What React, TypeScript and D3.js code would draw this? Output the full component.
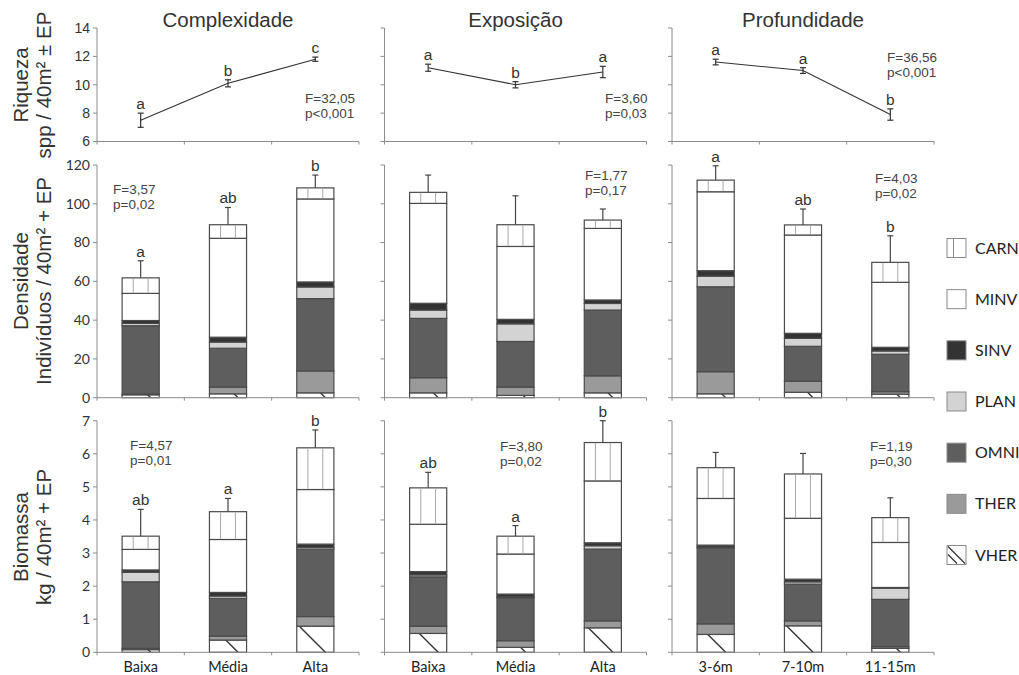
import React from 'react';
import * as d3 from 'd3';

// panels (columns) and their levels
const factors = ['Complexidade', 'Exposição', 'Profundidade'];
const levelsComplex = ['Baixa', 'Média', 'Alta'];
const levelsExpo = ['Baixa', 'Média', 'Alta'];
const levelsProf = ['3-6m', '7-10m', '11-15m'];
const levels = [levelsComplex, levelsExpo, levelsProf];

// trophic guilds, stacked bottom -> top
const guilds = ['VHER', 'THER', 'OMNI', 'PLAN', 'SINV', 'MINV', 'CARN'];
const legendOrder = ['CARN', 'MINV', 'SINV', 'PLAN', 'OMNI', 'THER', 'VHER'];

// Riqueza (spp / 40m2 +- EP)
const riqMean = [
  [7.5, 10.1, 11.8],
  [11.2, 10.0, 10.9],
  [11.6, 11.0, 7.9],
];
const riqErr = [
  [0.5, 0.25, 0.15],
  [0.25, 0.22, 0.4],
  [0.2, 0.2, 0.4],
];
const riqLetters = [['a', 'b', 'c'], ['a', 'b', 'a'], ['a', 'a', 'b']];
const riqStats = [['F=32,05', 'p<0,001'], ['F=3,60', 'p=0,03'], ['F=36,56', 'p<0,001']];

// Densidade (individuos / 40m2), guild values in stack order per level
const densComplex = [
  [1.5, 0.3, 35.3, 1.2, 1.5, 14.0, 8.0],
  [2.0, 3.5, 20.0, 3.2, 2.5, 51.0, 7.0],
  [2.5, 11.3, 37.3, 6.0, 2.6, 42.8, 5.7],
];
const densExpo = [
  [2.5, 7.8, 30.6, 4.3, 3.5, 51.5, 5.7],
  [1.2, 4.3, 23.5, 9.1, 2.3, 37.6, 11.2],
  [2.5, 8.8, 33.9, 3.4, 1.8, 36.9, 4.3],
];
const densProf = [
  [2.0, 11.4, 43.8, 5.5, 2.8, 40.7, 6.0],
  [2.8, 5.7, 18.0, 4.1, 2.6, 50.7, 5.2],
  [1.8, 1.3, 19.3, 1.7, 1.9, 33.5, 10.3],
];
const densErrTop = [
  [70.6, 98.1, 114.8],
  [114.8, 104.1, 97.3],
  [119.6, 97.3, 83.5],
];
const densLetters = [['a', 'ab', 'b'], ['', '', ''], ['a', 'ab', 'b']];
const densStats = [['F=3,57', 'p=0,02'], ['F=1,77', 'p=0,17'], ['F=4,03', 'p=0,02']];

// Biomassa (kg / 40m2)
const bioComplex = [
  [0.08, 0.04, 2.01, 0.29, 0.07, 0.62, 0.40],
  [0.37, 0.12, 1.14, 0.07, 0.11, 1.60, 0.84],
  [0.79, 0.29, 2.04, 0.05, 0.10, 1.65, 1.26],
];
const bioExpo = [
  [0.57, 0.22, 1.49, 0.06, 0.10, 1.43, 1.10],
  [0.15, 0.20, 1.30, 0.03, 0.08, 1.21, 0.54],
  [0.74, 0.21, 2.17, 0.10, 0.09, 1.87, 1.16],
];
const bioProf = [
  [0.54, 0.32, 2.30, 0.02, 0.06, 1.41, 0.93],
  [0.80, 0.15, 1.11, 0.07, 0.08, 1.84, 1.34],
  [0.12, 0.05, 1.43, 0.34, 0.02, 1.36, 0.75],
];
const bioErrTop = [
  [4.32, 4.65, 6.72],
  [5.44, 3.83, 7.0],
  [6.04, 6.01, 4.67],
];
const bioLetters = [['ab', 'a', 'b'], ['ab', 'a', 'b'], ['', '', '']];
const bioStats = [['F=4,57', 'p=0,01'], ['F=3,80', 'p=0,02'], ['F=1,19', 'p=0,30']];

const riqTicks = [6, 8, 10, 12, 14];
const densTicks = [0, 20, 40, 60, 80, 100, 120];
const bioTicks = [0, 1, 2, 3, 4, 5, 6, 7];

const fill: Record<string, string> = {
  VHER: '#ffffff',
  THER: '#9a9a9a',
  OMNI: '#5e5e5e',
  PLAN: '#d3d3d3',
  SINV: '#333333',
  MINV: '#ffffff',
  CARN: '#ffffff',
};

const ARIAL = '"Liberation Sans", Arial, sans-serif';
const CALIBRI = 'Lato, "Open Sans", sans-serif';
const AXIS = '#8c8c8c';
const TXT = '#333';
const EDGE = '#4a4a4a';

const panelLeft = d3.scaleLinear().domain([0, 1]).range([97, 384.5]);
const panelW = 262;

const yRiq = d3.scaleLinear().domain([6, 14]).range([141.5, 28]);
const yDens = d3.scaleLinear().domain([0, 120]).range([397.7, 165]);
const yBio = d3.scaleLinear().domain([0, 7]).range([652.3, 420.7]);

const statPos = {
  riq: [[305, 103], [605, 103], [887, 62]],
  dens: [[113, 194], [585, 180], [875, 183]],
  bio: [[130, 450], [500, 451], [870, 451]],
};

function xBand(lv: string[]) {
  return d3.scaleBand().domain(lv).range([0, panelW]).paddingInner(0.575).paddingOuter(0.2875);
}

function YAxis({ y, ticks, x0, labels, font }: any) {
  const [r0, r1] = y.range();
  return (
    <g>
      <line x1={x0} x2={x0} y1={r0} y2={r1} stroke={AXIS} />
      {ticks.map((t: number) => (
        <g key={t}>
          <line x1={x0 - 4} x2={x0} y1={y(t)} y2={y(t)} stroke={AXIS} />
          {labels && (
            <text x={x0 - 7} y={y(t)} dy="0.35em" textAnchor="end" fontSize={14} fontFamily={font} fill={TXT}>
              {t}
            </text>
          )}
        </g>
      ))}
    </g>
  );
}

function XAxis({ y0, x0 }: any) {
  const bounds = [0, 1, 2, 3].map((i) => x0 + (panelW / 3) * i);
  return (
    <g>
      <line x1={x0} x2={x0 + panelW} y1={y0} y2={y0} stroke={AXIS} />
      {bounds.map((b, i) => (
        <line key={i} x1={b} x2={b} y1={y0} y2={y0 + 3} stroke={AXIS} />
      ))}
    </g>
  );
}

function Stats({ pos, lines }: any) {
  return (
    <text x={pos[0]} y={pos[1]} fontSize={13.5} fontFamily={ARIAL} fill="#444">
      <tspan x={pos[0]}>{lines[0]}</tspan>
      <tspan x={pos[0]} dy={15}>{lines[1]}</tspan>
    </text>
  );
}

function StackPanel({ fi, data, errTop, letters, y, ticks, showCats }: any) {
  const x0 = panelLeft(fi);
  const lv = levels[fi];
  const xb = xBand(lv);
  const bw = xb.bandwidth();
  const series = d3.stack<number[]>().keys(guilds.map((_, i) => String(i))).value((d, k) => d[+k])(data);
  const y0 = y(0);
  return (
    <g>
      {series.map((s, gi) => {
        const g = guilds[gi];
        return s.map((seg, li) => {
          const bx = x0 + (xb(lv[li]) as number);
          const top = y(seg[1]);
          const bot = y(seg[0]);
          const h = Math.max(bot - top, 0);
          const id = `clip-${y.domain()[1]}-${fi}-${li}-${gi}`;
          return (
            <g key={`${gi}-${li}`}>
              <rect x={bx} y={top} width={bw} height={h} fill={fill[g]} stroke={EDGE} strokeWidth={1.2} />
              {g === 'CARN' &&
                [0.3, 0.7].map((f) => (
                  <line key={f} x1={bx + bw * f} x2={bx + bw * f} y1={top + 0.6} y2={bot - 0.6} stroke="#a8a8a8" strokeWidth={1} />
                ))}
              {g === 'VHER' && (
                <g>
                  <clipPath id={id}>
                    <rect x={bx} y={top} width={bw} height={h} />
                  </clipPath>
                  <line
                    x1={bx + bw * 0.77}
                    y1={bot}
                    x2={bx + bw * 0.77 - 60}
                    y2={bot - 60}
                    stroke="#333"
                    strokeWidth={1.4}
                    clipPath={`url(#${id})`}
                  />
                </g>
              )}
            </g>
          );
        });
      })}
      {lv.map((l: string, li: number) => {
        const cx = x0 + (xb(l) as number) + bw / 2;
        const tot = d3.sum(data[li]);
        return (
          <g key={l}>
            <line x1={cx} x2={cx} y1={y(tot)} y2={y(errTop[li])} stroke="#444" strokeWidth={1.2} />
            <line x1={cx - 3} x2={cx + 3} y1={y(errTop[li])} y2={y(errTop[li])} stroke="#444" strokeWidth={1.2} />
            {letters[li] && (
              <text x={cx} y={y(errTop[li]) - 4} textAnchor="middle" fontSize={15.5} fontFamily={ARIAL} fill={TXT}>
                {letters[li]}
              </text>
            )}
            {showCats && (
              <text x={cx} y={667} dy="0.35em" textAnchor="middle" fontSize={14.5} fontFamily={CALIBRI} fill="#222">
                {l}
              </text>
            )}
          </g>
        );
      })}
      <XAxis y0={y0} x0={x0} />
      <YAxis y={y} ticks={ticks} x0={x0} labels={fi === 0} font={CALIBRI} />
    </g>
  );
}

function RiqPanel({ fi }: any) {
  const x0 = panelLeft(fi);
  const lv = levels[fi];
  const xb = xBand(lv);
  const pts = lv.map((l, i) => [x0 + (xb(l) as number) + xb.bandwidth() / 2, riqMean[fi][i]] as [number, number]);
  const line = d3.line<[number, number]>().x((d) => d[0]).y((d) => yRiq(d[1]));
  return (
    <g>
      <XAxis y0={yRiq(6)} x0={x0} />
      <YAxis y={yRiq} ticks={riqTicks} x0={x0} labels={fi === 0} font={ARIAL} />
      <path d={line(pts) || ''} fill="none" stroke="#333" strokeWidth={1.1} />
      {pts.map(([cx, m], i) => {
        const e = riqErr[fi][i];
        return (
          <g key={i}>
            <line x1={cx} x2={cx} y1={yRiq(m - e)} y2={yRiq(m + e)} stroke="#333" strokeWidth={1.2} />
            <line x1={cx - 3} x2={cx + 3} y1={yRiq(m + e)} y2={yRiq(m + e)} stroke="#333" strokeWidth={1.2} />
            <line x1={cx - 3} x2={cx + 3} y1={yRiq(m - e)} y2={yRiq(m - e)} stroke="#333" strokeWidth={1.2} />
            <text x={cx} y={yRiq(m + e) - 4} textAnchor="middle" fontSize={15.5} fontFamily={ARIAL} fill={TXT}>
              {riqLetters[fi][i]}
            </text>
          </g>
        );
      })}
      <text x={x0 + panelW / 2} y={20} dy="0.35em" textAnchor="middle" fontSize={20.5} fontFamily={ARIAL} fill={TXT}>
        {factors[fi]}
      </text>
      <Stats pos={statPos.riq[fi]} lines={riqStats[fi]} />
    </g>
  );
}

function YTitle({ cy, l1, l2 }: any) {
  return (
    <g fontFamily={ARIAL} fontSize={20.5} fill={TXT} textAnchor="middle">
      <text transform={`translate(21,${cy}) rotate(-90)`} dy="0.35em">{l1}</text>
      <text transform={`translate(44,${cy}) rotate(-90)`} dy="0.35em">{l2}</text>
    </g>
  );
}

function Legend() {
  const ly = d3.scalePoint().domain(legendOrder).range([248, 555]);
  return (
    <g>
      {legendOrder.map((g) => {
        const cy = ly(g) as number;
        const x = 947;
        const s = 19;
        const top = cy - s / 2;
        return (
          <g key={g}>
            <rect x={x} y={top} width={s} height={s} fill={fill[g]} stroke="#8a8a8a" strokeWidth={1} />
            {g === 'CARN' && <line x1={x + 6.5} x2={x + 6.5} y1={top} y2={top + s} stroke="#8a8a8a" />}
            {g === 'VHER' && (
              <g stroke="#333" strokeWidth={1.2}>
                <line x1={x + 1} y1={top + 1} x2={x + s - 1} y2={top + s - 1} />
                <line x1={x + 1} y1={top + 9} x2={x + 10} y2={top + s - 1} />
              </g>
            )}
            <text x={975} y={cy} dy="0.35em" fontSize={16} fontFamily={CALIBRI} fill="#222">
              {g}
            </text>
          </g>
        );
      })}
    </g>
  );
}

const densData = [densComplex, densExpo, densProf];
const bioData = [bioComplex, bioExpo, bioProf];

export default function App() {
  return (
    <div style={{ position: 'absolute', left: 0, top: 0 }}>
      <svg width={1019} height={675} style={{ display: 'block', background: '#fff' }}>
        <YTitle cy={85} l1="Riqueza" l2="spp / 40m² ± EP" />
        <YTitle cy={281} l1="Densidade" l2="Indivíduos / 40m² + EP" />
        <YTitle cy={537} l1="Biomassa" l2="kg / 40m² + EP" />
        {[0, 1, 2].map((fi) => (
          <RiqPanel key={`r${fi}`} fi={fi} />
        ))}
        {[0, 1, 2].map((fi) => (
          <g key={`d${fi}`}>
            <StackPanel fi={fi} data={densData[fi]} errTop={densErrTop[fi]} letters={densLetters[fi]} y={yDens} ticks={densTicks} />
            <Stats pos={statPos.dens[fi]} lines={densStats[fi]} />
          </g>
        ))}
        {[0, 1, 2].map((fi) => (
          <g key={`b${fi}`}>
            <StackPanel fi={fi} data={bioData[fi]} errTop={bioErrTop[fi]} letters={bioLetters[fi]} y={yBio} ticks={bioTicks} showCats />
            <Stats pos={statPos.bio[fi]} lines={bioStats[fi]} />
          </g>
        ))}
        <Legend />
      </svg>
    </div>
  );
}
